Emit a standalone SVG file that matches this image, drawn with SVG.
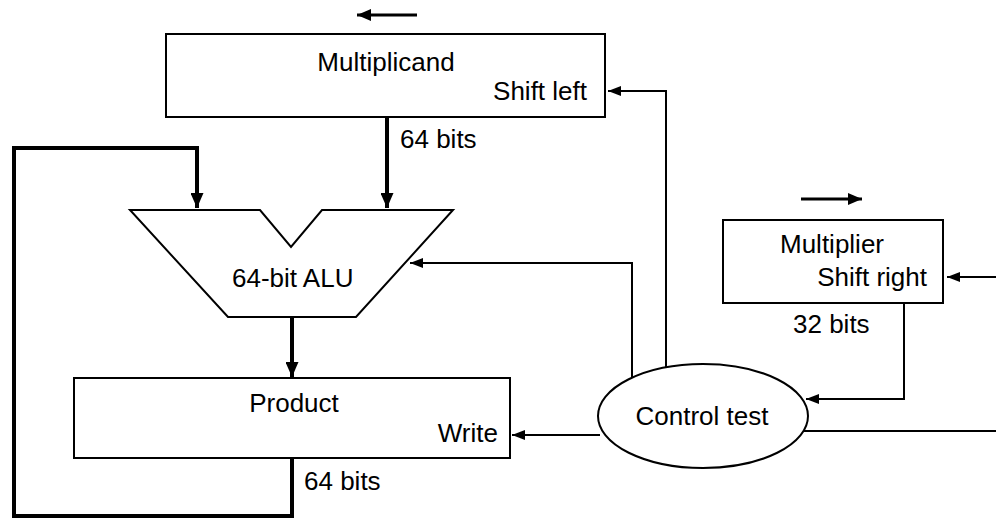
<svg xmlns="http://www.w3.org/2000/svg" width="996" height="520" viewBox="0 0 996 520">
<style>
.box{fill:#fff;stroke:#000;stroke-width:2}
.t{font-family:"Liberation Sans",Arial,sans-serif;font-size:26px;fill:#000}
.thick{fill:none;stroke:#000;stroke-width:4}
.thin{fill:none;stroke:#000;stroke-width:2}
.mid{fill:none;stroke:#000;stroke-width:3}
</style>
<defs>
<marker id="ahk" markerUnits="userSpaceOnUse" markerWidth="15" markerHeight="13" refX="15" refY="6.5" orient="auto"><path d="M0,0 L15,6.5 L0,13 z" fill="#000"/></marker>
<marker id="aht" markerUnits="userSpaceOnUse" markerWidth="13" markerHeight="10" refX="13" refY="5" orient="auto"><path d="M0,0 L13,5 L0,10 z" fill="#000"/></marker>
<marker id="ahm" markerUnits="userSpaceOnUse" markerWidth="14" markerHeight="12" refX="14" refY="6" orient="auto"><path d="M0,0 L14,6 L0,12 z" fill="#000"/></marker>
</defs>
<rect width="996" height="520" fill="#fff"/>
<g id="connectors">
<path class="thick" d="M387,117 V208" marker-end="url(#ahk)"/>
<path class="thick" d="M292,317 V377" marker-end="url(#ahk)"/>
<path class="thick" d="M292,458 V516 H14 V148 H197 V208" marker-end="url(#ahk)"/>
<path class="thin" d="M666,367 V91 H608" marker-end="url(#aht)"/>
<path class="thin" d="M632,378 V263 H410" marker-end="url(#aht)"/>
<path class="thin" d="M600,435 H512" marker-end="url(#aht)"/>
<path class="thin" d="M904,303 V399 H806" marker-end="url(#aht)"/>
<path class="thin" d="M803,431 H996"/>
<path class="thin" d="M996,277 H947" marker-end="url(#aht)"/>
<path class="mid" d="M417,15 H357" marker-end="url(#ahm)"/>
<path class="mid" d="M801,199 H862" marker-end="url(#ahm)"/>
</g>
<g id="multiplicand">
<rect class="box" x="166" y="34" width="439" height="83"/>
<text class="t" x="386" y="71" text-anchor="middle">Multiplicand</text>
<text class="t" x="587" y="100" text-anchor="end">Shift left</text>
</g>
<text class="t" x="400" y="148">64 bits</text>
<g id="alu">
<polygon class="box" points="130,210 260,210 291,247 322,210 453,210 356,317 228,317"/>
<text class="t" x="232" y="287">64-bit ALU</text>
</g>
<g id="product">
<rect class="box" x="74" y="378" width="436" height="80"/>
<text class="t" x="294" y="412" text-anchor="middle">Product</text>
<text class="t" x="498" y="442" text-anchor="end">Write</text>
</g>
<text class="t" x="304" y="490">64 bits</text>
<g id="multiplier">
<rect class="box" x="723" y="220" width="220" height="83"/>
<text class="t" x="832" y="253" text-anchor="middle">Multiplier</text>
<text class="t" x="927" y="286" text-anchor="end">Shift right</text>
</g>
<text class="t" x="793" y="333">32 bits</text>
<g id="control">
<ellipse class="box" cx="703" cy="416" rx="105" ry="52"/>
<text class="t" x="702" y="425" text-anchor="middle">Control test</text>
</g>
</svg>
